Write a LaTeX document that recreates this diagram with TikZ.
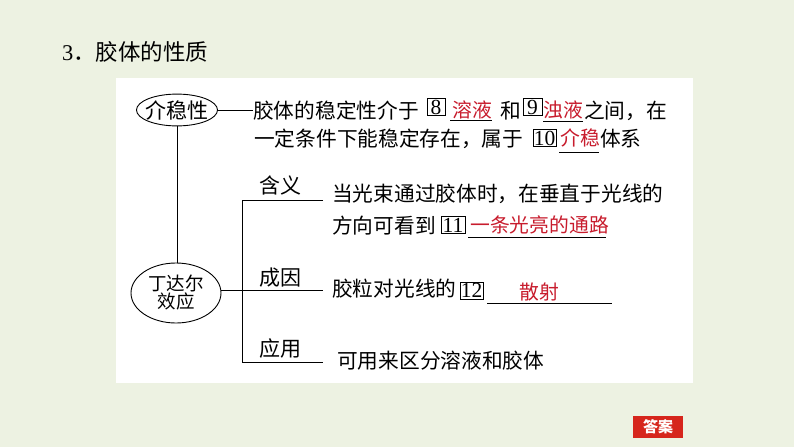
\documentclass[tikz,border=0pt]{standalone}
\usepackage{fontspec}
\setmainfont{Liberation Serif}
\newfontfamily\cjk{Noto Sans CJK SC}
\usetikzlibrary{shapes.geometric}
\definecolor{bgGreen}{RGB}{237,242,226}
\definecolor{ansRed}{RGB}{200,28,45}
\definecolor{btnRed}{RGB}{214,38,28}
\tikzset{
  txt/.style={inner sep=0, anchor=base west, font=\cjk\fontsize{20.7}{24}\selectfont},
  lbl/.style={inner sep=0, anchor=base, font=\cjk\fontsize{21}{24}\selectfont},
  ans/.style={inner sep=0, anchor=base west, text=ansRed, font=\cjk\fontsize{19.8}{24}\selectfont},
  numbox/.style={draw, line width=0.8pt, inner sep=0, minimum height=17, font=\fontsize{21.5}{22}\selectfont},
  bubble/.style={ellipse, draw, line width=0.9pt},
  conn/.style={line width=0.9pt},
  blank/.style={line width=0.9pt},
}
\begin{document}
\begin{tikzpicture}[x=1pt,y=-1pt]
\useasboundingbox (0,0) rectangle (794,447);
\fill[bgGreen] (0,0) rectangle (794,447);
\fill[white] (116,78) rectangle (693,383);

% title
\node[inner sep=0, anchor=base west, font=\fontsize{22.5}{26}\selectfont] (title) at (62,60.5) {3\cjk ．胶体的性质};

% bubbles
\node[bubble, inner xsep=-4, inner ysep=1.5, minimum width=81, minimum height=25,
      font=\cjk\fontsize{21}{24}\selectfont] (e1) at (177,110) {介稳性};
\node[bubble, inner sep=0, minimum width=90, minimum height=60, align=center,
      font=\cjk\fontsize{18.5}{18}\selectfont] (e2) at (176,293) {丁达尔\\效应};

% line 1
\node[txt] (l1a) at (253,118) {胶体的稳定性介于};
\node[numbox, minimum width=18] (b8) at (436,107) {\raisebox{-0.5pt}{8}};
\node[ans] (r8) at (452,117.5) {溶液};
\node[txt] (l1b) at (500,118) {和};
\node[numbox, minimum width=19] (b9) at (532.5,107) {\raisebox{-0.5pt}{9}};
\node[ans] (r9) at (543.5,117.5) {浊液};
\node[txt] (l1c) at (584,118) {之间，在};
% line 2
\node[txt] (l2a) at (254,146) {一定条件下能稳定存在，属于};
\node[numbox, minimum width=23] (b10) at (544.5,138) {10};
\node[ans] (r10) at (560,145.5) {介稳};
\node[txt] (l2b) at (600,146) {体系};

% Tyndall branch texts
\node[txt] (l3) at (332,201) {当光束通过胶体时，在垂直于光线的};
\node[txt] (l4) at (332,233) {方向可看到};
\node[numbox, minimum width=24] (b11) at (453,225) {11};
\node[ans] (r11) at (470,232.5) {一条光亮的通路};
\node[txt] (l5) at (332,296) {胶粒对光线的};
\node[numbox, minimum width=23] (b12) at (471.5,290.5) {12};
\node[ans] (r12) at (519,299.5) {散射};
\node[txt] (l6) at (337,368) {可用来区分溶液和胶体};

% branch labels
\node[lbl] (k1) at (280,193.5) {含义};
\node[lbl] (k2) at (280,285.5) {成因};
\node[lbl] (k3) at (280,356) {应用};

% blanks
\draw[blank] (450,120.5) -- (492,120.5);
\draw[blank] (543,121.5) -- (583,121.5);
\draw[blank] (559,152) -- (599,152);
\draw[blank] (468,237) -- (606,237);
\draw[blank] (487,303) -- (612,303);

% connectors
\coordinate (t1) at (253,110);
\draw[conn] (e1.east) -- (t1);
\draw[conn] (e1.south) -- (e1.south |- e2.north);
\coordinate (bt) at (242,200);
\coordinate (bb) at (242,362);
\coordinate (c1) at (323,200);
\coordinate (c2) at (323,290);
\coordinate (c3) at (323,362);
\draw[conn] (c1) -- (bt) -- (bb) -- (c3);
\draw[conn] (e2.east |- c2) -- (c2);

% answer button
\node[fill=btnRed, inner sep=0, minimum width=50, minimum height=22, text=white,
      font=\cjk\bfseries\fontsize{15}{16}\selectfont] (btn) at (658,427) {答案};
\end{tikzpicture}
\end{document}
